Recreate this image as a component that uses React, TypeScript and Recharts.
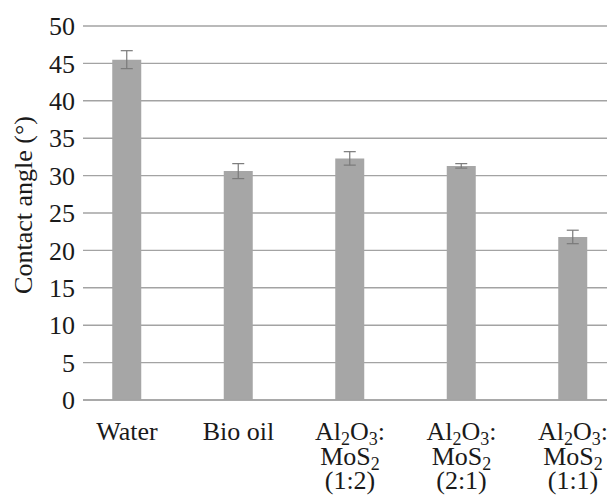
import { Bar, BarChart, CartesianGrid, ErrorBar, XAxis, YAxis } from "recharts";

const categories = ["Water", "Bio oil", "Al_2O_3:|MoS_2|(1:2)", "Al_2O_3:|MoS_2|(2:1)", "Al_2O_3:|MoS_2|(1:1)"];
const angles = [45.5, 30.6, 32.3, 31.3, 21.8];
const errors = [1.2, 1.0, 0.9, 0.3, 0.9];
const yTicks = [0, 5, 10, 15, 20, 25, 30, 35, 40, 45, 50];

const data = categories.map((name, i) => ({ name, angle: angles[i], err: errors[i] }));

const FONT = "'Liberation Serif', 'Times New Roman', serif";
const INK = "#1a1a1a";

// "_2" marks a subscript digit, "|" a line break
function renderLine(line: string) {
  const parts = line.split(/(_\d)/).filter(Boolean);
  let sub = false;
  return parts.map((p, k) => {
    if (p.startsWith("_")) {
      sub = true;
      return (
        <tspan key={k} dy={5} fontSize={18}>
          {p.slice(1)}
        </tspan>
      );
    }
    const dy = sub ? -5 : 0;
    sub = false;
    return (
      <tspan key={k} dy={dy}>
        {p}
      </tspan>
    );
  });
}

function CategoryTick(props: { x?: number; y?: number; payload?: { value: string } }) {
  const { x = 0, y = 0, payload } = props;
  const lines = (payload?.value ?? "").split("|");
  const offsets = [32, 57, 81];
  return (
    <g transform={`translate(${x},${y})`}>
      {lines.map((line, i) => (
        <text key={i} x={0} y={offsets[i]} textAnchor="middle" fontSize={26} fontFamily={FONT} fill={INK}>
          {renderLine(line)}
        </text>
      ))}
    </g>
  );
}

function YLabel(props: { viewBox?: { x: number; y: number; width: number; height: number } }) {
  const vb = props.viewBox ?? { x: 0, y: 0, width: 0, height: 0 };
  const cx = vb.x + 15;
  const cy = vb.y + vb.height / 2 - 8;
  return (
    <text
      x={cx}
      y={cy}
      transform={`rotate(-90, ${cx}, ${cy})`}
      textAnchor="middle"
      dominantBaseline="central"
      fontSize={26}
      fontFamily={FONT}
      fill={INK}
    >
      Contact angle (°)
    </text>
  );
}

export default function App() {
  return (
    <div style={{ width: 607, height: 487 }}>
      <BarChart width={607} height={487} data={data} margin={{ top: 18, right: 0, bottom: 0, left: 0 }}>
        <CartesianGrid vertical={false} stroke="#a3a3a3" strokeWidth={1.4} />
        <XAxis
          dataKey="name"
          height={95}
          interval={0}
          padding={{ left: -11.75, right: -13.75 }}
          axisLine={{ stroke: "#a3a3a3", strokeWidth: 1.4 }}
          tickLine={false}
          tick={<CategoryTick />}
        />
        <YAxis
          width={75}
          domain={[0, 50]}
          ticks={yTicks}
          axisLine={false}
          tickLine={false}
          tickSize={0}
          tickMargin={8}
          tick={{ fontSize: 26, fontFamily: FONT, fill: INK }}
          label={<YLabel />}
        />
        <Bar dataKey="angle" fill="#a6a6a6" barSize={29} isAnimationActive={false}>
          <ErrorBar dataKey="err" width={6} stroke="#7a7a7a" strokeWidth={1.2} />
        </Bar>
      </BarChart>
    </div>
  );
}
